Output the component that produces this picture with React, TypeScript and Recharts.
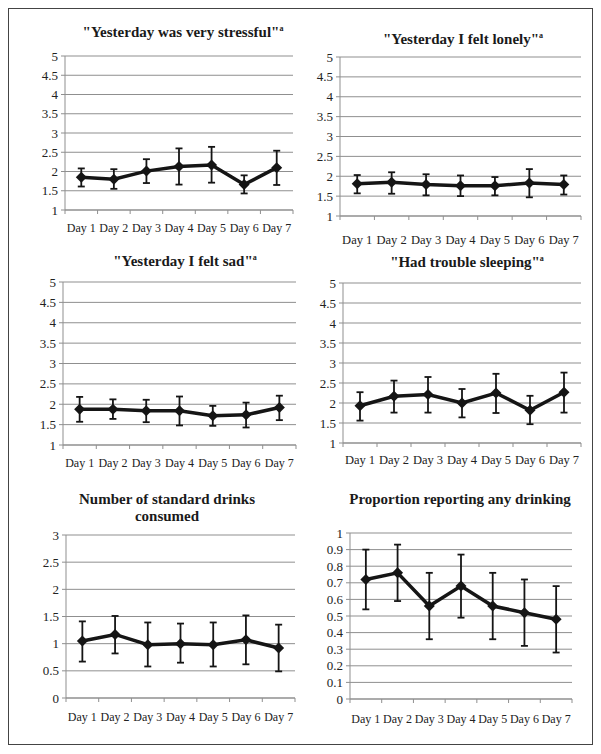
import React from "react";
import {
  LineChart,
  Line,
  XAxis,
  YAxis,
  CartesianGrid,
  ErrorBar,
} from "recharts";

const days = ["Day 1", "Day 2", "Day 3", "Day 4", "Day 5", "Day 6", "Day 7"];

// "Yesterday was very stressful"
const stressMean = [1.85, 1.8, 2.01, 2.13, 2.17, 1.66, 2.1];
const stressUpper = [2.08, 2.06, 2.32, 2.6, 2.64, 1.9, 2.54];
const stressLower = [1.61, 1.55, 1.7, 1.66, 1.71, 1.43, 1.65];

// "Yesterday I felt lonely"
const lonelyMean = [1.81, 1.85, 1.79, 1.76, 1.76, 1.83, 1.79];
const lonelyUpper = [2.03, 2.1, 2.05, 2.02, 1.98, 2.18, 2.02];
const lonelyLower = [1.57, 1.56, 1.52, 1.5, 1.52, 1.47, 1.54];

// "Yesterday I felt sad"
const sadMean = [1.88, 1.88, 1.84, 1.84, 1.72, 1.74, 1.92];
const sadUpper = [2.18, 2.12, 2.11, 2.19, 1.96, 2.04, 2.21];
const sadLower = [1.57, 1.64, 1.56, 1.48, 1.47, 1.43, 1.61];

// "Had trouble sleeping"
const sleepMean = [1.93, 2.17, 2.21, 2.0, 2.25, 1.82, 2.27];
const sleepUpper = [2.27, 2.56, 2.65, 2.35, 2.73, 2.18, 2.76];
const sleepLower = [1.56, 1.76, 1.76, 1.64, 1.75, 1.47, 1.76];

// Number of standard drinks consumed
const drinksMean = [1.05, 1.17, 0.98, 1.0, 0.98, 1.07, 0.92];
const drinksUpper = [1.41, 1.51, 1.39, 1.37, 1.39, 1.52, 1.35];
const drinksLower = [0.67, 0.82, 0.58, 0.65, 0.58, 0.62, 0.49];

// Proportion reporting any drinking
const anyMean = [0.72, 0.76, 0.56, 0.68, 0.56, 0.52, 0.48];
const anyUpper = [0.9, 0.93, 0.76, 0.87, 0.76, 0.72, 0.68];
const anyLower = [0.54, 0.59, 0.36, 0.49, 0.36, 0.32, 0.28];

const ticksOneToFive = [1, 1.5, 2, 2.5, 3, 3.5, 4, 4.5, 5];
const ticksDrinks = [0, 0.5, 1, 1.5, 2, 2.5, 3];
const ticksProportion = [0, 0.1, 0.2, 0.3, 0.4, 0.5, 0.6, 0.7, 0.8, 0.9, 1];

const GRID = "#8f8f8f";
const INK = "#151515";
const SERIF = "'Liberation Serif', 'Times New Roman', Times, serif";

// category centres plus the boundaries between them (Excel-style tick marks)
const xTicks = [0.5, 1, 1.5, 2, 2.5, 3, 3.5, 4, 4.5, 5, 5.5, 6, 6.5, 7, 7.5];

function buildRows(mean: number[], upper: number[], lower: number[]) {
  return days.map((d, i) => ({
    idx: i + 1,
    day: d,
    mean: mean[i],
    err: [mean[i] - lower[i], upper[i] - mean[i]],
  }));
}

const DayTick = (props: any) => {
  const { x, y, payload, labelOffset, size } = props;
  const v = payload.value;
  if (Number.isInteger(v)) {
    return (
      <text
        x={x}
        y={y + labelOffset}
        dy="0.35em"
        textAnchor="middle"
        fontSize={size}
        fontFamily={SERIF}
        fill="#222"
      >
        {days[v - 1]}
      </text>
    );
  }
  return <line x1={x} x2={x} y1={y} y2={y + 4} stroke={GRID} />;
};

const Diamond = (props: any) => {
  const { cx, cy } = props;
  if (cx == null || cy == null) return null;
  const r = 5.5;
  return (
    <path
      d={`M${cx} ${cy - r} L${cx + r} ${cy} L${cx} ${cy + r} L${cx - r} ${cy} Z`}
      fill={INK}
    />
  );
};

interface PanelProps {
  rows: any[];
  yTicks: number[];
  // plot area in page coordinates
  x0: number;
  x1: number;
  yTop: number;
  yBot: number;
  labelY: number;
  labelSize?: number;
}

const ORIGIN = 9; // box padding origin on the page (8px body margin + 1px border)
const AXIS_W = 45;
const X_AXIS_H = 38;

function Panel({ rows, yTicks, x0, x1, yTop, yBot, labelY, labelSize = 12 }: PanelProps) {
  const width = x1 - x0 + AXIS_W + 8;
  const height = yBot - yTop + 10 + X_AXIS_H;
  return (
    <div
      style={{
        position: "absolute",
        left: x0 - AXIS_W - ORIGIN,
        top: yTop - 10 - ORIGIN,
      }}
    >
      <LineChart
        width={width}
        height={height}
        data={rows}
        margin={{ top: 10, right: 8, left: 0, bottom: 0 }}
      >
        <CartesianGrid vertical={false} stroke={GRID} strokeWidth={1} />
        <XAxis
          dataKey="idx"
          type="number"
          domain={[0.5, 7.5]}
          ticks={xTicks}
          interval={0}
          height={X_AXIS_H}
          tickSize={0}
          tickMargin={0}
          tickLine={false}
          axisLine={{ stroke: GRID }}
          tick={<DayTick labelOffset={labelY - yBot} size={labelSize} />}
        />
        <YAxis
          type="number"
          domain={[yTicks[0], yTicks[yTicks.length - 1]]}
          ticks={yTicks}
          interval={0}
          width={AXIS_W}
          tickSize={4}
          tickMargin={3}
          axisLine={{ stroke: GRID }}
          tickLine={{ stroke: GRID }}
          tick={{ fontSize: 13, fontFamily: SERIF, fill: "#222" }}
        />
        <Line
          dataKey="mean"
          stroke={INK}
          strokeWidth={3.5}
          dot={<Diamond />}
          activeDot={false}
          isAnimationActive={false}
        >
          <ErrorBar
            dataKey="err"
            direction="y"
            width={3.5}
            stroke={INK}
            strokeWidth={1.8}
            isAnimationActive={false}
          />
        </Line>
      </LineChart>
    </div>
  );
}

function Title({
  cx,
  top,
  children,
}: {
  cx: number;
  top: number;
  children: React.ReactNode;
}) {
  return (
    <div
      style={{
        position: "absolute",
        left: cx - ORIGIN - 150,
        top: top - ORIGIN,
        width: 300,
        textAlign: "center",
        fontFamily: SERIF,
        fontWeight: "bold",
        fontSize: 15,
        lineHeight: "17px",
        color: "#1a1a1a",
      }}
    >
      {children}
    </div>
  );
}

const Sup = () => (
  <sup style={{ fontSize: 8, verticalAlign: "top", lineHeight: "10px" }}>a</sup>
);

export default function App() {
  return (
    <div
      style={{
        position: "relative",
        width: 583,
        height: 735,
        border: "1px solid #444",
        background: "#fff",
      }}
    >
      <Title cx={183} top={24}>
        "Yesterday was very stressful"
        <Sup />
      </Title>
      <Panel
        rows={buildRows(stressMean, stressUpper, stressLower)}
        yTicks={ticksOneToFive}
        x0={65}
        x1={293}
        yTop={56}
        yBot={210}
        labelY={228}
      />

      <Title cx={463} top={31}>
        "Yesterday I felt lonely"
        <Sup />
      </Title>
      <Panel
        rows={buildRows(lonelyMean, lonelyUpper, lonelyLower)}
        yTicks={ticksOneToFive}
        x0={340}
        x1={581}
        yTop={57}
        yBot={216}
        labelY={240}
        labelSize={12.5}
      />

      <Title cx={185} top={253}>
        "Yesterday I felt sad"
        <Sup />
      </Title>
      <Panel
        rows={buildRows(sadMean, sadUpper, sadLower)}
        yTicks={ticksOneToFive}
        x0={63}
        x1={296}
        yTop={282}
        yBot={445}
        labelY={463}
      />

      <Title cx={467} top={254}>
        "Had trouble sleeping"
        <Sup />
      </Title>
      <Panel
        rows={buildRows(sleepMean, sleepUpper, sleepLower)}
        yTicks={ticksOneToFive}
        x0={343}
        x1={581}
        yTop={283}
        yBot={443}
        labelY={460}
        labelSize={12.5}
      />

      <Title cx={167} top={491}>
        Number of standard drinks
        <br />
        consumed
      </Title>
      <Panel
        rows={buildRows(drinksMean, drinksUpper, drinksLower)}
        yTicks={ticksDrinks}
        x0={66}
        x1={295}
        yTop={535}
        yBot={698}
        labelY={717}
      />

      <Title cx={460} top={491}>
        Proportion reporting any drinking
      </Title>
      <Panel
        rows={buildRows(anyMean, anyUpper, anyLower)}
        yTicks={ticksProportion}
        x0={350}
        x1={572}
        yTop={533}
        yBot={699}
        labelY={719}
      />
    </div>
  );
}
